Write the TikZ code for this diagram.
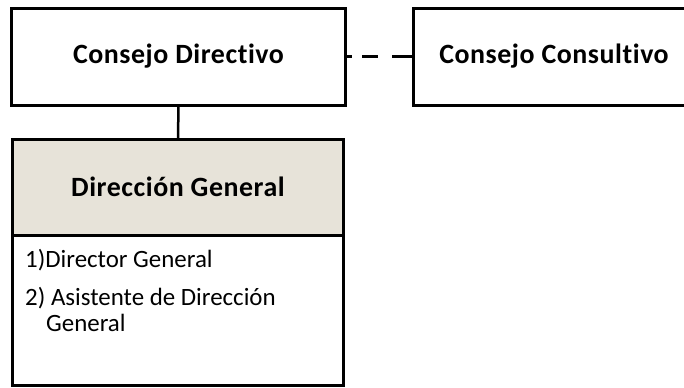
\documentclass[tikz,border=0pt]{standalone}
\usepackage{fontspec}
\setmainfont[Ligatures=NoCommon]{Carlito}
\newfontfamily\titlefam[Ligatures=NoCommon, LetterSpace=2]{Carlito}
\definecolor{hdrfill}{HTML}{E7E3D9}
\tikzset{
  box/.style={draw=black, line width=3bp, inner sep=0pt, outer sep=0pt, align=center},
  titlefont/.style={font=\titlefam\fontsize{28}{30}\selectfont\bfseries},
  bodyfont/.style={font=\fontsize{25}{26}\selectfont},
  link/.style={line width=2.5bp},
}
\begin{document}
\begin{tikzpicture}[x=1bp,y=-1bp]
\useasboundingbox (0,0) rectangle (684,387);
\node[box, titlefont, minimum width=333bp, minimum height=97bp] (cd) at (178.5,56.5) {Consejo Directivo};
\node[box, minimum width=287bp, minimum height=97bp] (cc) at (556.5,56.5) {};
\node[titlefont, anchor=center] (cctext) at (554,56.5) {Consejo Consultivo};
\node[box, fill=hdrfill, titlefont, minimum width=330bp, minimum height=96bp] (dg) at (178,187) {Dirección General};
\node[box, minimum width=330bp, minimum height=150bp, anchor=north] (body) at (dg.south) {};
\node[bodyfont, anchor=base west, inner sep=0pt] (l1) at (25,267) {1)Director General};
\node[bodyfont, anchor=base west, inner sep=0pt] (l2) at (25,305) {2) Asistente de Dirección};
\node[bodyfont, anchor=base west, inner sep=0pt] (l3) at (46,331) {General};
\draw[link] (cd.south) -- (dg.north);
\draw[link, dash pattern=on 7bp off 10bp on 16bp off 14bp on 30bp] (cd.east) -- (cc.west);
\end{tikzpicture}
\end{document}
